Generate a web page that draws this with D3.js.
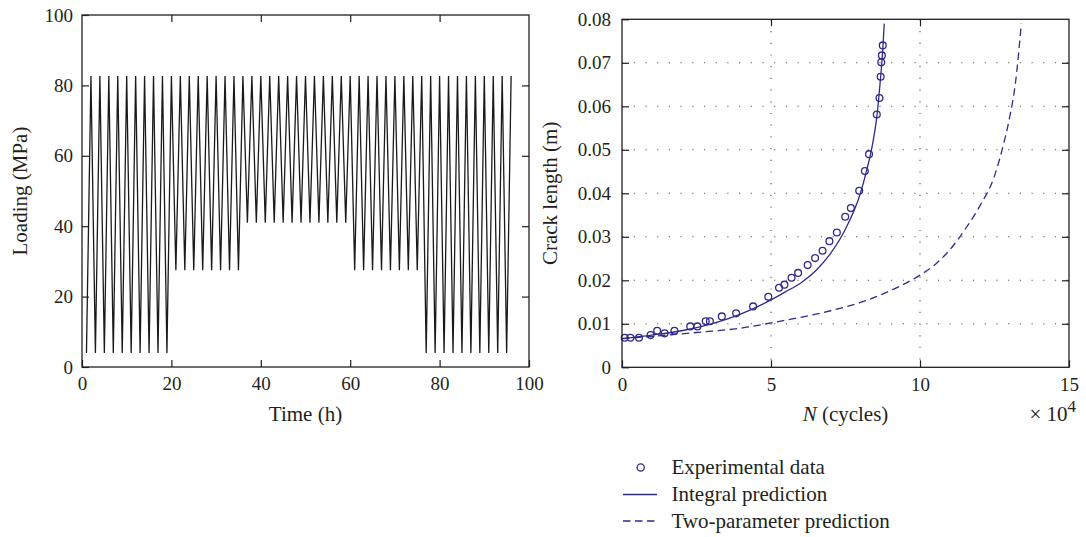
<!DOCTYPE html>
<html><head><meta charset="utf-8">
<script src="https://cdn.jsdelivr.net/npm/d3@7"></script>
<style>body{margin:0;background:#fff}svg{display:block}text{font-family:"Liberation Serif",serif;fill:#231f20}</style>
</head><body><svg id="c" width="1086" height="537"></svg>
<script>
// ---------- Left chart data ----------
const timeTicks = [0, 20, 40, 60, 80, 100];
const loadTicks = [0, 20, 40, 60, 80, 100];
const peakLoad = 82.7;
const valleyLoads = [
  4, 4, 4, 4, 4, 4, 4, 4, 4, 4,
  27.5, 27.5, 27.5, 27.5, 27.5, 27.5, 27.5, 27.5,
  41, 41, 41, 41, 41, 41, 41, 41, 41, 41, 41, 41,
  27.5, 27.5, 27.5, 27.5, 27.5, 27.5, 27.5, 27.5,
  4, 4, 4, 4, 4, 4, 4, 4, 4, 4
];
const cycleHours = 2;

// ---------- Right chart data (N in 1e4 cycles, crack length in m) ----------
const nTicks = [0, 5, 10, 15];
const crackTicks = [0, 0.01, 0.02, 0.03, 0.04, 0.05, 0.06, 0.07, 0.08];
const expN = [0.09, 0.28, 0.57, 0.96, 1.18, 1.43, 1.76, 2.29, 2.53, 2.81, 2.95, 3.35, 3.83, 4.40, 4.91, 5.27, 5.45, 5.69, 5.91, 6.23, 6.48, 6.73, 6.96, 7.21, 7.49, 7.68, 7.96, 8.15, 8.29, 8.55, 8.64, 8.68, 8.70, 8.72, 8.75];
const expA = [0.0068, 0.0068, 0.0068, 0.0074, 0.0084, 0.0078, 0.0084, 0.0094, 0.0094, 0.0106, 0.0106, 0.0117, 0.0124, 0.0140, 0.0162, 0.0183, 0.0190, 0.0206, 0.0217, 0.0235, 0.0251, 0.0268, 0.0290, 0.0310, 0.0346, 0.0366, 0.0406, 0.0451, 0.0490, 0.0581, 0.0619, 0.0668, 0.0701, 0.0717, 0.0740];
const intN = [0, 1, 2, 3, 4, 5, 5.5, 6, 6.5, 7, 7.5, 8, 8.2, 8.4, 8.55, 8.65, 8.75, 8.8];
const intA = [0.0066, 0.0074, 0.0084, 0.0100, 0.0123, 0.0155, 0.0174, 0.0194, 0.0222, 0.0262, 0.0318, 0.0400, 0.0450, 0.0510, 0.0575, 0.0645, 0.0730, 0.0790];
const twoN = [0, 1, 2, 3, 4, 5, 6, 7, 8, 9, 10, 10.5, 11, 11.5, 12, 12.5, 12.8, 13, 13.2, 13.4];
const twoA = [0.0066, 0.0071, 0.0077, 0.0083, 0.0090, 0.0102, 0.0115, 0.0130, 0.0149, 0.0176, 0.0212, 0.0236, 0.0270, 0.0316, 0.0370, 0.0440, 0.0512, 0.0572, 0.0652, 0.0790];

const legendLabels = ["Experimental data", "Integral prediction", "Two-parameter prediction"];

const navy = "#2f2b8c";
const svg = d3.select("#c");
const TICK = 7;

function frame(g, w, h) {
  g.append("rect").attr("x", 0).attr("y", 0).attr("width", w).attr("height", h)
    .attr("fill", "none").attr("stroke", "#231f20").attr("stroke-width", 1.3);
}
function styleAxis(sel, fs) {
  sel.select(".domain").remove();
  sel.selectAll("line").attr("stroke", "#231f20").attr("stroke-width", 1.2);
  sel.selectAll("text").attr("font-size", fs).attr("font-family", "Liberation Serif, serif").attr("fill", "#231f20");
}

// ================= LEFT CHART =================
{
  const L = {x: 82, y: 15, w: 447, h: 352};
  const g = svg.append("g").attr("transform", `translate(${L.x},${L.y})`);
  const x = d3.scaleLinear().domain([0, 100]).range([0, L.w]);
  const y = d3.scaleLinear().domain([0, 100]).range([L.h, 0]);

  const pts = [];
  valleyLoads.forEach((v, i) => {
    pts.push([cycleHours * i + 1, v]);
    pts.push([cycleHours * i + 2, peakLoad]);
  });
  g.append("path").datum(pts)
    .attr("d", d3.line().x(d => x(d[0])).y(d => y(d[1])))
    .attr("fill", "none").attr("stroke", "#1a1a1a").attr("stroke-width", 1.3)
    .attr("stroke-linejoin", "miter");

  frame(g, L.w, L.h);
  const fs = 19;
  g.append("g").attr("transform", `translate(0,${L.h})`)
    .call(d3.axisBottom(x).tickValues(timeTicks).tickSize(-TICK).tickPadding(10).tickFormat(d3.format("d")))
    .call(s => styleAxis(s, fs));
  g.append("g")
    .call(d3.axisLeft(y).tickValues(loadTicks).tickSize(-TICK).tickPadding(9).tickFormat(d3.format("d")))
    .call(s => styleAxis(s, fs));
  g.append("g")
    .call(d3.axisTop(x).tickValues(timeTicks.slice(1, -1)).tickSize(-TICK).tickFormat(""))
    .call(s => styleAxis(s, fs));
  g.append("g").attr("transform", `translate(${L.w},0)`)
    .call(d3.axisRight(y).tickValues(loadTicks.slice(1, -1)).tickSize(-TICK).tickFormat(""))
    .call(s => styleAxis(s, fs));

  g.append("text").attr("x", L.w / 2).attr("y", 406).attr("text-anchor", "middle")
    .attr("font-size", 21).text("Time (h)");
  g.append("text").attr("transform", `translate(${27 - L.x},${L.h / 2}) rotate(-90)`)
    .attr("text-anchor", "middle").attr("font-size", 21).text("Loading (MPa)");
}

// ================= RIGHT CHART =================
{
  const R = {x: 622, y: 19.3, w: 447, h: 348};
  const g = svg.append("g").attr("transform", `translate(${R.x},${R.y})`);
  const x = d3.scaleLinear().domain([0, 15]).range([0, R.w]);
  const y = d3.scaleLinear().domain([0, 0.08]).range([R.h, 0]);

  // grid
  const grid = g.append("g").attr("stroke", "#555").attr("stroke-width", 1.1).attr("stroke-dasharray", "1.2,10.5");
  crackTicks.slice(1, -1).forEach(t => {
    grid.append("line").attr("x1", 0).attr("x2", R.w).attr("y1", y(t)).attr("y2", y(t));
  });
  nTicks.slice(1, -1).forEach(t => {
    grid.append("line").attr("y1", 0).attr("y2", R.h).attr("x1", x(t)).attr("x2", x(t));
  });

  const line = d3.line().x(d => x(d[0])).y(d => y(d[1])).curve(d3.curveMonotoneX);
  g.append("path").datum(intN.map((n, i) => [n, intA[i]]))
    .attr("d", line).attr("fill", "none").attr("stroke", navy).attr("stroke-width", 1.3);
  g.append("path").datum(twoN.map((n, i) => [n, twoA[i]]))
    .attr("d", line).attr("fill", "none").attr("stroke", navy).attr("stroke-width", 1.3)
    .attr("stroke-dasharray", "7.5,4.5");
  g.append("g").selectAll("circle").data(expN.map((n, i) => [n, expA[i]])).join("circle")
    .attr("cx", d => x(d[0])).attr("cy", d => y(d[1])).attr("r", 3.4)
    .attr("fill", "none").attr("stroke", navy).attr("stroke-width", 1.3);

  frame(g, R.w, R.h);
  const fs = 19;
  const yFmt = d => d === 0 ? "0" : d3.format(".2f")(d);
  g.append("g").attr("transform", `translate(0,${R.h})`)
    .call(d3.axisBottom(x).tickValues(nTicks).tickSize(-TICK).tickPadding(10).tickFormat(d3.format("d")))
    .call(s => styleAxis(s, fs));
  g.append("g")
    .call(d3.axisLeft(y).tickValues(crackTicks).tickSize(-TICK).tickPadding(11).tickFormat(yFmt))
    .call(s => styleAxis(s, fs));
  g.append("g")
    .call(d3.axisTop(x).tickValues(nTicks.slice(1, -1)).tickSize(-TICK).tickFormat(""))
    .call(s => styleAxis(s, fs));
  g.append("g").attr("transform", `translate(${R.w},0)`)
    .call(d3.axisRight(y).tickValues(crackTicks.slice(1, -1)).tickSize(-TICK).tickFormat(""))
    .call(s => styleAxis(s, fs));

  const xl = g.append("text").attr("x", R.w / 2).attr("y", 402).attr("text-anchor", "middle").attr("font-size", 21);
  xl.append("tspan").attr("font-style", "italic").text("N");
  xl.append("tspan").text(" (cycles)");
  const mult = g.append("text").attr("x", R.w + 7).attr("y", 402).attr("text-anchor", "end").attr("font-size", 21);
  mult.append("tspan").text("\u00d7 10");
  mult.append("tspan").attr("font-size", 17).attr("dy", -9).text("4");

  g.append("text").attr("transform", `translate(${557 - R.x},${R.h / 2}) rotate(-90)`)
    .attr("text-anchor", "middle").attr("font-size", 21).text("Crack length (m)");
}

// ================= LEGEND =================
{
  const lg = svg.append("g");
  const rows = [467.5, 494.5, 521];
  lg.append("circle").attr("cx", 640.7).attr("cy", rows[0]).attr("r", 3.6)
    .attr("fill", "none").attr("stroke", navy).attr("stroke-width", 1.3);
  lg.append("line").attr("x1", 623).attr("x2", 657).attr("y1", rows[1]).attr("y2", rows[1])
    .attr("stroke", navy).attr("stroke-width", 1.3);
  lg.append("line").attr("x1", 623).attr("x2", 657).attr("y1", rows[2]).attr("y2", rows[2])
    .attr("stroke", navy).attr("stroke-width", 1.3).attr("stroke-dasharray", "7.5,4.5");
  legendLabels.forEach((t, i) => {
    lg.append("text").attr("x", 671.5).attr("y", rows[i] + 6.5).attr("font-size", 21).text(t);
  });
}
</script>
</body></html>
